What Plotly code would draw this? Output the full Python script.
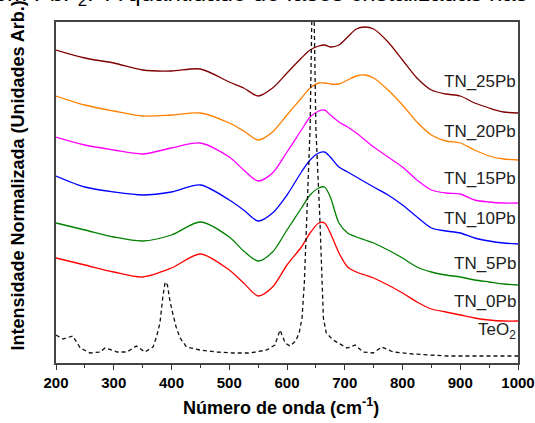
import plotly.graph_objects as go

# Wavenumber grid (cm-1) for the glass spectra
wn = [200, 250, 300, 350, 400, 450, 500, 525, 550, 575, 600, 625, 640, 655, 665, 675,
      690, 705, 720, 735, 750, 775, 800, 825, 850, 875, 900, 925, 950, 975, 1000]

# Normalized intensities (arbitrary units, stacked with offsets)
tn_0pb = [105, 98, 91, 86, 95, 109, 93, 80, 67, 76, 98, 116, 130, 140, 140, 130,
          110, 96, 91, 88, 85, 78, 70, 61, 54, 51, 48, 45, 43, 42, 42]
tn_5pb = [140, 133, 126, 122, 128, 141, 126, 112, 102, 111, 133, 155, 168, 175, 176, 166,
          140, 130, 126, 123, 120, 113, 105, 96, 91, 88, 86, 83, 81, 79, 78]
tn_10pb = [187, 176, 171, 168, 171, 178, 163, 153, 142, 150, 168, 191, 203, 210, 211, 206,
           196, 191, 186, 181, 176, 168, 158, 146, 135, 132, 130, 125, 122, 120, 119]
tn_15pb = [226, 218, 213, 209, 215, 220, 206, 193, 182, 190, 211, 233, 246, 252, 253, 248,
           241, 236, 230, 223, 216, 206, 196, 183, 173, 170, 169, 163, 161, 160, 160]
tn_20pb = [267, 258, 252, 247, 248, 250, 240, 232, 223, 231, 248, 265, 275, 280, 280, 279,
           279, 283, 287, 288, 285, 273, 258, 241, 228, 222, 220, 213, 207, 204, 203]
tn_25pb = [313, 305, 300, 293, 292, 294, 281, 275, 267, 275, 290, 305, 313, 317, 318, 316,
           318, 326, 334, 336, 334, 321, 303, 285, 273, 269, 267, 260, 255, 251, 250]

# Crystalline TeO2 reference
teo2_wn = [200, 212, 229, 242, 259, 276, 285, 306, 323, 339, 354, 368, 374, 380, 385, 389,
           393, 397, 402, 408, 415, 426, 449, 479, 506, 536, 565, 579, 588, 597, 605, 615,
           621, 626, 630, 634, 640, 645, 650, 657, 660, 663, 668, 680, 704, 718, 732, 749,
           764, 784, 818, 877, 1000]
teo2 = [28, 24, 27, 15, 10, 11, 15, 11, 11, 17, 11, 16, 26, 40, 66, 81,
        78, 63, 50, 36, 25, 16, 13, 11, 10, 10, 13, 18, 33, 20, 17, 22,
        30, 45, 80, 143, 235, 420, 235, 143, 90, 45, 30, 23, 15, 18, 11, 10,
        16, 11, 9, 7, 7]

series = [
    ("TN_25Pb", tn_25pb, "#800000", 282),
    ("TN_20Pb", tn_20pb, "#FF8000", 232),
    ("TN_15Pb", tn_15pb, "#FF00FF", 185),
    ("TN_10Pb", tn_10pb, "#0000FF", 145),
    ("TN_5Pb", tn_5pb, "#008000", 100),
    ("TN_0Pb", tn_0pb, "#FF0000", 62),
]

FONT = "Liberation Sans, Arial"

fig = go.Figure()
for name, vals, color, _ in series:
    fig.add_trace(go.Scatter(x=wn, y=vals, mode="lines", name=name,
                             line=dict(color=color, width=1.3, shape="spline", smoothing=0.8)))
fig.add_trace(go.Scatter(x=teo2_wn, y=teo2, mode="lines", name="TeO2",
                         line=dict(color="#111111", width=1.3, dash="4px,3px")))

annotations = []
for name, _, _, ly in series:
    annotations.append(dict(x=1000, y=ly, xref="x", yref="y", text=name, showarrow=False,
                            xanchor="right", yanchor="middle",
                            font=dict(family=FONT, size=17, color="#222")))
annotations.append(dict(x=1000, y=35, xref="x", yref="y", text="TeO<sub>2</sub>",
                        showarrow=False, xanchor="right", yanchor="middle", yshift=-3,
                        font=dict(family=FONT, size=17, color="#222")))
# y title
annotations.append(dict(x=-0.082, y=0.55, xref="paper", yref="paper",
                        text="<b>Intensidade Normalizada (Unidades Arb.)</b>", textangle=-90,
                        showarrow=False, xanchor="center", yanchor="middle",
                        font=dict(family=FONT, size=18, color="#000")))
# x title
annotations.append(dict(x=0.487, y=-0.129, xref="paper", yref="paper",
                        text="<b>Número de onda (cm<sup>-1</sup>)</b>",
                        showarrow=False, xanchor="center", yanchor="middle",
                        font=dict(family=FONT, size=18, color="#000")))
# Clipped caption text at top of page
annotations.append(dict(x=0.0866, y=1.029, xref="paper", yref="paper",
                        text="vidro com PbF<sub>2</sub>.", showarrow=False,
                        xanchor="right", yanchor="bottom",
                        font=dict(family=FONT, size=24, color="#000")))
annotations.append(dict(x=0.104, y=1.042, xref="paper", yref="paper",
                        text="A quantidade de fases cristalizadas nas", showarrow=False,
                        xanchor="left", yanchor="bottom",
                        font=dict(family=FONT, size=24, color="#000")))

ticks = [200, 300, 400, 500, 600, 700, 800, 900, 1000]

fig.update_layout(
    width=535, height=423,
    margin=dict(l=56, r=17, t=22, b=60, autoexpand=False),
    paper_bgcolor="white", plot_bgcolor="white",
    showlegend=False,
    annotations=annotations,
    font=dict(family=FONT, color="#000"),
)
fig.update_xaxes(
    range=[200, 1000], tickmode="array",
    tickvals=ticks,
    ticktext=["<b>%d</b>" % v for v in ticks],
    ticks="outside", ticklen=5, tickwidth=1.3, tickcolor="#333",
    minor=dict(tickvals=[250, 350, 450, 550, 650, 750, 850, 950], ticks="outside",
               ticklen=3, tickwidth=1.3, tickcolor="#333"),
    tickfont=dict(size=15, family=FONT, color="#000"),
    showline=True, linecolor="#444", linewidth=1.5, mirror=True,
    showgrid=False, zeroline=False, automargin=False,
)
fig.update_yaxes(
    range=[0, 341], showticklabels=False, ticks="",
    showline=True, linecolor="#444", linewidth=1.5, mirror=True,
    showgrid=False, zeroline=False, automargin=False,
)

fig.write_html("out.html", config={"displayModeBar": False},
               post_script="document.body.style.margin='0';")
